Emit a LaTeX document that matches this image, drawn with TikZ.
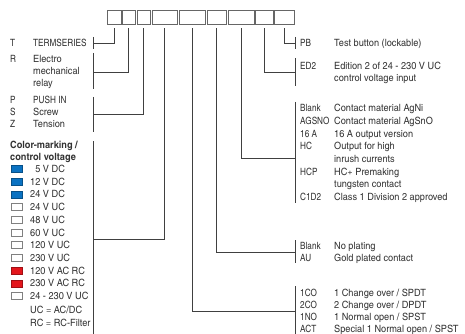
\documentclass[tikz,border=0pt]{standalone}
\usepackage{fontspec}
\setmainfont{texgyreheroscn}[Extension=.otf,UprightFont=*-regular,BoldFont=*-bold]
\newfontfamily\widecn{texgyreheroscn}[Extension=.otf,UprightFont=*-regular,BoldFont=*-bold,FakeStretch=1.12]
\definecolor{swblue}{HTML}{0A72C2}
\definecolor{swred}{HTML}{E3161C}
\definecolor{ink}{HTML}{333333}
\tikzset{
 cell/.style={draw=black!60,line width=.8pt,minimum height=14pt,inner sep=0pt},
 wire/.style={draw=black!75,line width=.7pt},
 lbl/.style={anchor=base west,inner sep=0pt,yshift=-3.5pt,text=ink,font=\fontsize{10}{12}\selectfont},
 txt/.style={lbl,font=\fontsize{10}{12}\selectfont\widecn},
 hd/.style={lbl,font=\fontsize{10}{12}\selectfont\widecn\bfseries},
 swatch/.style={draw=black!50,line width=.5pt,minimum width=11pt,minimum height=7pt,inner sep=0pt},
}
\begin{document}
\begin{tikzpicture}[x=1pt,y=-1pt]
 \useasboundingbox (0,0) rectangle (465,334);
 % the code boxes
 \node[cell,minimum width=14pt] (b1) at (114,17) {};
 \node[cell,minimum width=13pt] (b2) at (128.5,17) {};
 \node[cell,minimum width=13pt] (b3) at (143.5,17) {};
 \node[cell,minimum width=25pt] (b4) at (164.5,17) {};
 \node[cell,minimum width=26pt] (b5) at (192,17) {};
 \node[cell,minimum width=19pt] (b6) at (216.5,17) {};
 \node[cell,minimum width=26pt] (b7) at (241,17) {};
 \node[cell,minimum width=18pt] (b8) at (264,17) {};
 \node[cell,minimum width=20pt] (b9) at (284,17) {};
 % bracket points
 \coordinate (k1) at (93,43);
 \coordinate (k2) at (93,72);
 \coordinate (k3) at (93,114);
 \coordinate (k4) at (93,239);
 \coordinate (k5) at (295,311);
 \coordinate (k6) at (295,252);
 \coordinate (k7) at (295,158);
 \coordinate (k8) at (295,72);
 \coordinate (k9) at (295,43);
 % brackets
 \draw[wire] (93,37)--(93,49);
 \draw[wire] (93,53)--(93,89);
 \draw[wire] (93,97)--(93,132);
 \draw[wire] (93,141)--(93,334);
 \draw[wire] (295,37)--(295,49);
 \draw[wire] (295,58)--(295,86);
 \draw[wire] (295,102)--(295,203);
 \draw[wire] (295,240)--(295,263);
 \draw[wire] (295,286)--(295,334);
 % connectors
 \draw[wire] ([yshift=-4pt]b1.south) |- (k1);
 \draw[wire] ([yshift=-4pt]b2.south) |- (k2);
 \draw[wire] ([yshift=-4pt]b3.south) |- (k3);
 \draw[wire] ([yshift=-4pt]b4.south) |- (k4);
 \draw[wire] ([yshift=-4pt]b5.south) |- (k5);
 \draw[wire] ([yshift=-4pt]b6.south) |- (k6);
 \draw[wire] ([yshift=-4pt]b7.south) |- (k7);
 \draw[wire] ([yshift=-4pt]b8.south) |- (k8);
 \draw[wire] ([yshift=-4pt]b9.south) |- (k9);
 % left column
 \node[lbl] (cT) at (10,43) {T};
 \node[lbl] (tT) at (33,43) {TERMSERIES};
 \node[lbl] (cR) at (10,59) {R};
 \node[txt] (tR1) at (33,59) {Electro};
 \node[txt] (tR2) at (33,71) {mechanical};
 \node[txt] (tR3) at (33,83) {relay};
 \node[lbl] (cP) at (10,100) {P};
 \node[lbl] (tP) at (33,100) {PUSH IN};
 \node[lbl] (cS) at (10,112) {S};
 \node[txt] (tS) at (33,112) {Screw};
 \node[lbl] (cZ) at (10,124) {Z};
 \node[txt] (tZ) at (33,124) {Tension};
 \node[hd] (h1) at (10,145) {Color-marking /};
 \node[hd] (h2) at (10,157) {control voltage};
 \node[swatch,fill=swblue,draw=swblue!70!black] (s1) at (16.5,169) {};
 \node[txt] (v1) at (30,169) {\hphantom{1}5 V DC};
 \node[swatch,fill=swblue,draw=swblue!70!black] (s2) at (16.5,181.7) {};
 \node[txt] (v2) at (30,181.7) {12 V DC};
 \node[swatch,fill=swblue,draw=swblue!70!black] (s3) at (16.5,194.4) {};
 \node[txt] (v3) at (30,194.4) {24 V DC};
 \node[swatch,fill=white] (s4) at (16.5,207.1) {};
 \node[txt] (v4) at (30,207.1) {24 V UC};
 \node[swatch,fill=white] (s5) at (16.5,219.8) {};
 \node[txt] (v5) at (30,219.8) {48 V UC};
 \node[swatch,fill=white] (s6) at (16.5,232.5) {};
 \node[txt] (v6) at (30,232.5) {60 V UC};
 \node[swatch,fill=white] (s7) at (16.5,245.2) {};
 \node[txt] (v7) at (30,245.2) {120 V UC};
 \node[swatch,fill=white] (s8) at (16.5,257.9) {};
 \node[txt] (v8) at (30,257.9) {230 V UC};
 \node[swatch,fill=swred,draw=swred!70!black] (s9) at (16.5,270.6) {};
 \node[txt] (v9) at (30,270.6) {120 V AC RC};
 \node[swatch,fill=swred,draw=swred!70!black] (s10) at (16.5,283.3) {};
 \node[txt] (v10) at (30,283.3) {230 V AC RC};
 \node[swatch,fill=white] (s11) at (16.5,296) {};
 \node[txt] (v11) at (30,296) {24 - 230 V UC};
 \node[txt] (n1) at (30,310) {UC = AC/DC};
 \node[txt] (n2) at (30,323) {RC = RC-Filter};
 % right column
 \node[lbl] (cPB) at (300,43) {PB};
 \node[txt] (dPB) at (334,43) {Test button (lockable)};
 \node[lbl] (cED) at (300,66) {ED2};
 \node[txt] (dED1) at (334,66) {Edition 2 of 24 - 230 V UC};
 \node[txt] (dED2) at (334,78) {control voltage input};
 \node[lbl] (cM1) at (300,108) {Blank};
 \node[txt] (dM1) at (334,108) {Contact material AgNi};
 \node[lbl] (cM2) at (300,121) {AGSNO};
 \node[txt] (dM2) at (334,121) {Contact material AgSnO};
 \node[lbl] (cM3) at (300,134) {16 A};
 \node[txt] (dM3) at (334,134) {16 A output version};
 \node[lbl] (cM4) at (300,146) {HC};
 \node[txt] (dM4a) at (334,146) {Output for high};
 \node[txt] (dM4b) at (334,159) {inrush currents};
 \node[lbl] (cM5) at (300,172) {HCP};
 \node[txt] (dM5a) at (334,172) {HC+ Premaking};
 \node[txt] (dM5b) at (334,184) {tungsten contact};
 \node[lbl] (cM6) at (300,197) {C1D2};
 \node[txt] (dM6) at (334,197) {Class 1 Division 2 approved};
 \node[lbl] (cG1) at (300,246) {Blank};
 \node[txt] (dG1) at (334,246) {No plating};
 \node[lbl] (cG2) at (300,258) {AU};
 \node[txt] (dG2) at (334,258) {Gold plated contact};
 \node[lbl] (cK1) at (300,293) {1CO};
 \node[txt] (dK1) at (334,293) {1 Change over / SPDT};
 \node[lbl] (cK2) at (300,305) {2CO};
 \node[txt] (dK2) at (334,305) {2 Change over / DPDT};
 \node[lbl] (cK3) at (300,317) {1NO};
 \node[txt] (dK3) at (334,317) {1 Normal open / SPST};
 \node[lbl] (cK4) at (300,329) {ACT};
 \node[txt] (dK4) at (334,329) {Special 1 Normal open / SPST};
\end{tikzpicture}
\end{document}
